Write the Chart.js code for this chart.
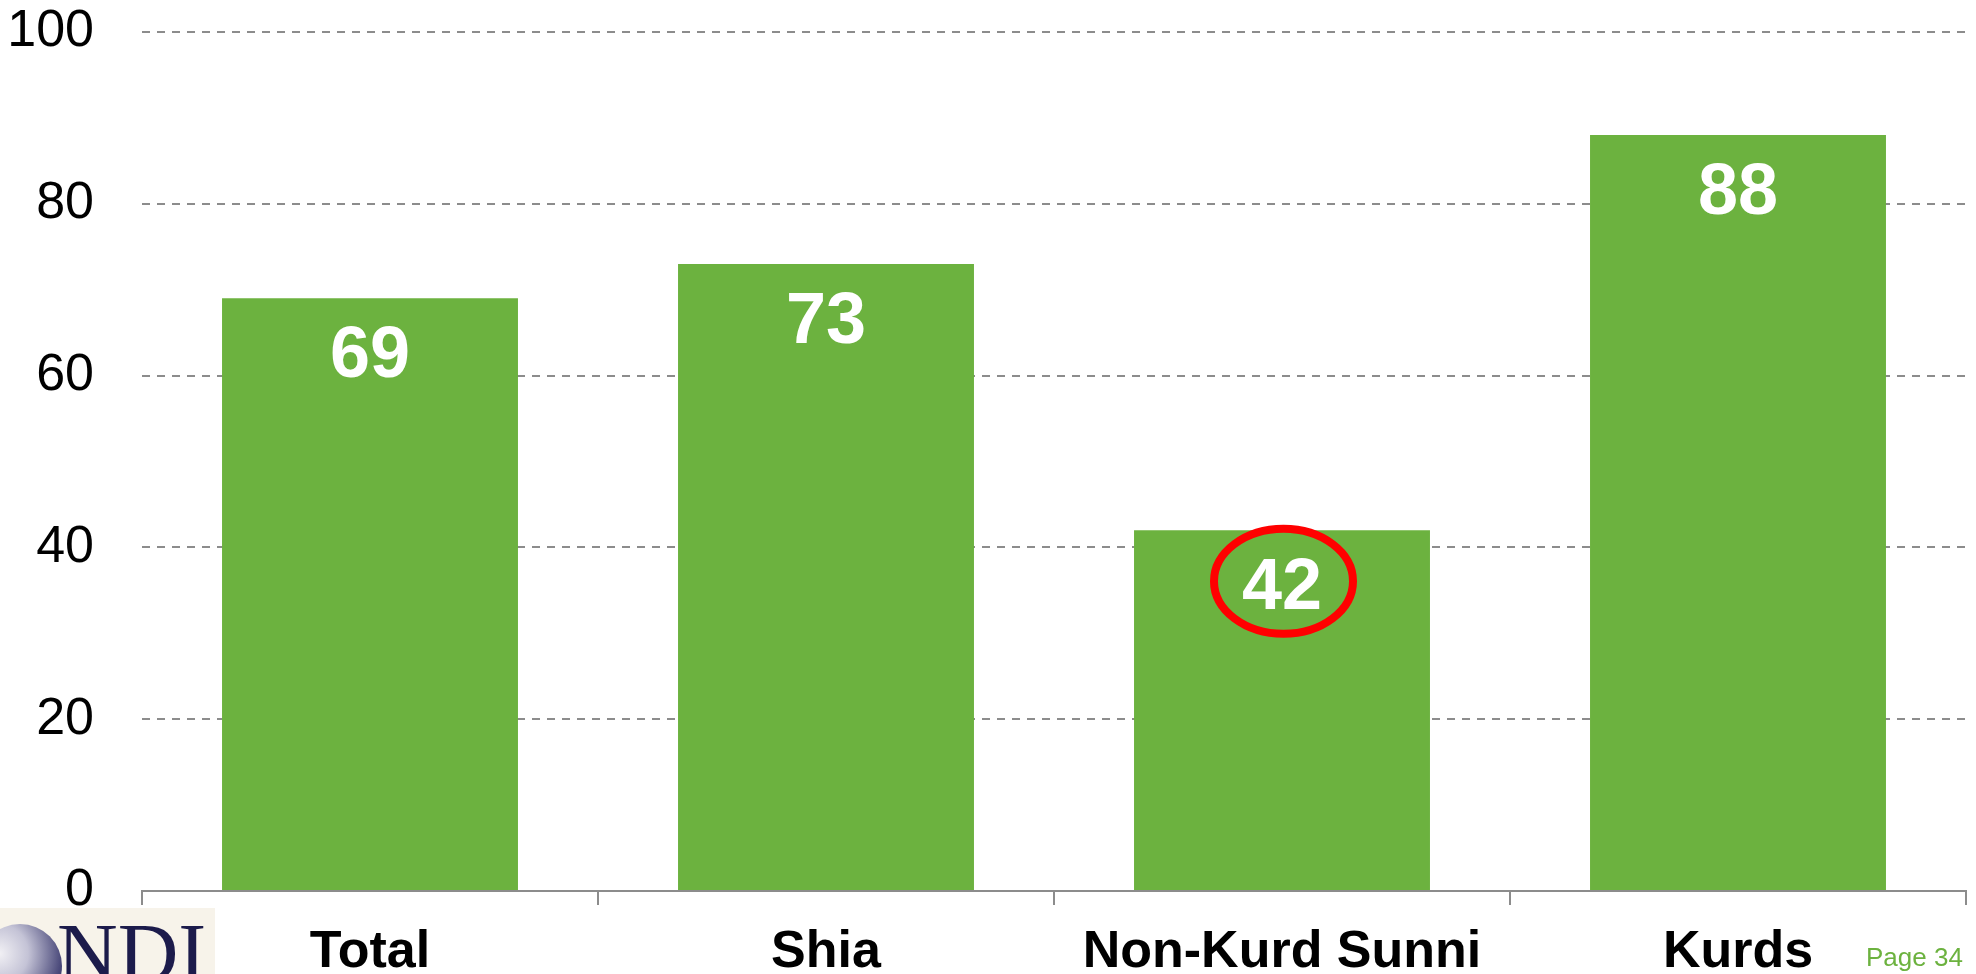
<!DOCTYPE html>
<html lang="en">
<head>
    <meta charset="UTF-8">
    <title>Chart</title>
    <script src="https://cdn.jsdelivr.net/npm/chart.js@4.4.1/dist/chart.umd.min.js"></script>
    <style>
        html, body { margin: 0; padding: 0; background: #fff; overflow: hidden; }
        #wrap { position: relative; width: 1976px; height: 974px; }
        #logo { position: absolute; left: 0; top: 908px; width: 215px; height: 66px; background: #f7f3ea; overflow: hidden; }
        #globe { position: absolute; left: -22px; top: 16px; width: 84px; height: 84px; border-radius: 50%;
                 background: radial-gradient(circle at 25% 35%, #f2f1f5 0%, #c4c3d6 35%, #4a497a 75%, #1d1c4d 100%); }
        #ndi { position: absolute; left: 57px; top: 4px; font-family: "Liberation Serif", serif; font-size: 84px; line-height: 84px; color: #1c1b4b; letter-spacing: 0; }
        #page { position: absolute; left: 1866px; top: 942px; font-family: "Liberation Sans", Arial, sans-serif; font-size: 26px; color: #6cb23f; }
    </style>
</head>
<body>
<div id="wrap">
    <canvas id="barChart" width="1976" height="974"></canvas>
    <div id="logo"><div id="globe"></div><div id="ndi">NDI</div></div>
    <div id="page">Page 34</div>
</div>
<script>
    const categories = ['Total', 'Shia', 'Non-Kurd Sunni', 'Kurds'];
    const values = [69, 73, 42, 88];
    const yTicks = [0, 20, 40, 60, 80, 100];
    const highlightIndex = 2;

    const barGreen = '#6cb23f';
    const axisGray = '#8c8c8c';

    // white value labels inside the top of each bar, plus the red ring
    const valueLabels = {
        id: 'valueLabels',
        afterDatasetsDraw(chart) {
            const ctx = chart.ctx;
            const meta = chart.getDatasetMeta(0);
            ctx.save();
            ctx.font = 'bold 72px "Liberation Sans", Arial, sans-serif';
            ctx.fillStyle = '#ffffff';
            ctx.textAlign = 'center';
            ctx.textBaseline = 'middle';
            meta.data.forEach((bar, i) => {
                ctx.fillText(String(values[i]), bar.x, bar.y + 59);
            });
            const hb = meta.data[highlightIndex];
            ctx.beginPath();
            ctx.ellipse(hb.x + 1.5, hb.y + 51, 69.5, 52.5, 0, 0, Math.PI * 2);
            ctx.strokeStyle = '#ff0000';
            ctx.lineWidth = 8;
            ctx.stroke();
            ctx.restore();
        }
    };

    Chart.defaults.font.family = '"Liberation Sans", Arial, sans-serif';
    Chart.defaults.color = '#000000';

    new Chart(document.getElementById('barChart').getContext('2d'), {
        type: 'bar',
        data: {
            labels: categories,
            datasets: [{
                data: values,
                backgroundColor: barGreen,
                borderWidth: 0,
                categoryPercentage: 1.0,
                barPercentage: 0.649
            }]
        },
        options: {
            responsive: false,
            animation: false,
            devicePixelRatio: 1,
            layout: { padding: { top: 32, right: 10, left: 0, bottom: 0 } },
            plugins: {
                legend: { display: false },
                tooltip: { enabled: false }
            },
            scales: {
                x: {
                    offset: true,
                    afterFit(scale) {
                        scale.height = 83;
                        scale.paddingLeft = 0;
                        scale.paddingRight = 0;
                    },
                    grid: {
                        offset: true,
                        drawOnChartArea: false,
                        drawTicks: true,
                        tickLength: 14,
                        color: axisGray,
                        lineWidth: 2
                    },
                    border: { display: true, color: axisGray, width: 2 },
                    ticks: {
                        padding: 16,
                        maxRotation: 0,
                        autoSkip: false,
                        color: '#000000',
                        font: { size: 52, weight: 'bold' }
                    }
                },
                y: {
                    min: 0,
                    max: 100,
                    afterFit(scale) {
                        scale.width = 142;
                        scale.paddingTop = 0;
                        scale.paddingBottom = 0;
                    },
                    afterBuildTicks(scale) { scale.ticks = yTicks.map(v => ({ value: v })); },
                    grid: {
                        drawTicks: false,
                        color: axisGray,
                        lineWidth: 2
                    },
                    border: { display: false, dash: [8, 7] },
                    ticks: {
                        padding: 48,
                        color: '#000000',
                        font: { size: 52 }
                    }
                }
            }
        },
        plugins: [valueLabels]
    });
</script>
</body>
</html>
